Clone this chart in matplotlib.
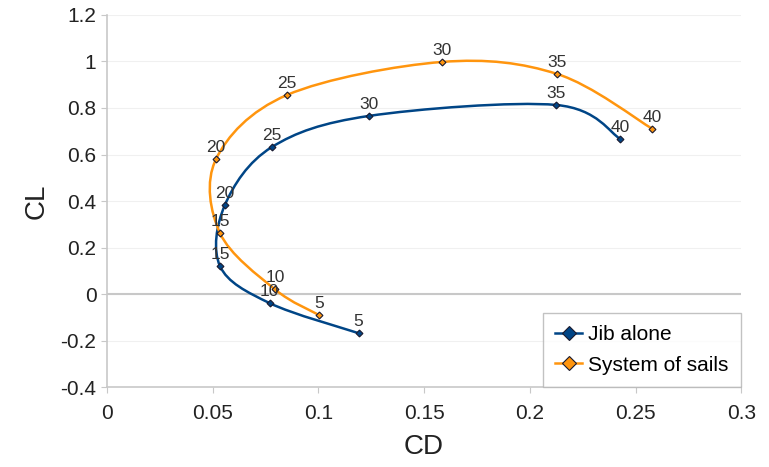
import matplotlib.pyplot as plt
import numpy as np
from matplotlib.path import Path
from matplotlib.patches import PathPatch

plt.rcParams['font.family'] = ['Liberation Sans', 'DejaVu Sans']

angles = [5, 10, 15, 20, 25, 30, 35, 40]

jib_cd = [0.119, 0.077, 0.0535, 0.0558, 0.078, 0.124, 0.2125, 0.2428]
jib_cl = [-0.168, -0.039, 0.12, 0.383, 0.632, 0.766, 0.813, 0.667]

sys_cd = [0.1003, 0.0795, 0.0535, 0.0516, 0.0852, 0.1585, 0.213, 0.258]
sys_cl = [-0.09, 0.02, 0.262, 0.58, 0.856, 0.998, 0.946, 0.71]

BLUE = "#004586"
ORANGE = "#ff950e"


def smooth_path(xs, ys):
    # catmull-rom style bezier through the points, like a spreadsheet "smooth line"
    p = np.column_stack([xs, ys])
    n = len(p)
    verts = [p[0]]
    codes = [Path.MOVETO]
    for i in range(n - 1):
        p0 = p[i - 1] if i > 0 else p[i]
        p3 = p[i + 2] if i + 2 < n else p[i + 1]
        c1 = p[i] + (p[i + 1] - p0) / 6
        c2 = p[i + 1] - (p3 - p[i]) / 6
        verts += [c1, c2, p[i + 1]]
        codes += [Path.CURVE4] * 3
    return Path(verts, codes)


fig = plt.figure(figsize=(7.69, 4.67), dpi=100)
ax = fig.add_axes([0.139, 0.171, 0.825, 0.797])

for cd, cl, col, mfc, name in [
    (jib_cd, jib_cl, BLUE, BLUE, "Jib alone"),
    (sys_cd, sys_cl, ORANGE, ORANGE, "System of sails"),
]:
    ax.add_patch(PathPatch(smooth_path(cd, cl), fill=False, edgecolor=col, lw=1.8, zorder=3))
    ax.plot(cd, cl, ls="none", marker="D", ms=3.5, mfc=mfc, mec="#1a1a2e", mew=0.8, zorder=4)
    # legend proxy
    ax.plot([], [], color=col, lw=1.8, marker="D", ms=7, mfc=mfc, mec="#1a1a2e", mew=0.8, label=name)
    for a, x, y in zip(angles, cd, cl):
        ax.annotate(str(a), (x, y), xytext=(0, 3), textcoords="offset points",
                    ha="center", va="bottom", fontsize=12.5, color="#333333", zorder=5)

ax.set_xlim(0, 0.3)
ax.set_ylim(-0.4, 1.2)
ax.set_xticks(np.arange(0, 0.301, 0.05))
ax.set_xticklabels(["0", "0.05", "0.1", "0.15", "0.2", "0.25", "0.3"])
ax.set_yticks(np.arange(-0.4, 1.201, 0.2))
ax.set_yticklabels(["-0.4", "-0.2", "0", "0.2", "0.4", "0.6", "0.8", "1", "1.2"])

ax.grid(axis="y", color="#f0f0f0", lw=0.8)
ax.axhline(0, color="#c8c8c8", lw=1.5, zorder=1)
ax.set_axisbelow(True)
for s in ["top", "right"]:
    ax.spines[s].set_visible(False)
for s in ["left", "bottom"]:
    ax.spines[s].set_color("#c8c8c8")
    ax.spines[s].set_linewidth(1.2)
ax.tick_params(axis="both", colors="#c8c8c8", labelcolor="#222222", labelsize=15, length=4)
ax.tick_params(axis="x", pad=8)

ax.set_xlabel("CD", fontsize=20, color="#222222", labelpad=8)
ax.set_ylabel("CL", fontsize=20, color="#222222", labelpad=8)

leg = ax.legend(loc="lower right", fontsize=15, frameon=True, fancybox=False,
                edgecolor="#b3b3b3", handlelength=1.3, handletextpad=0.3,
                borderaxespad=0.0, borderpad=0.6, labelspacing=0.55)
leg.get_frame().set_linewidth(1.0)

fig.savefig("out.png", dpi=100)
